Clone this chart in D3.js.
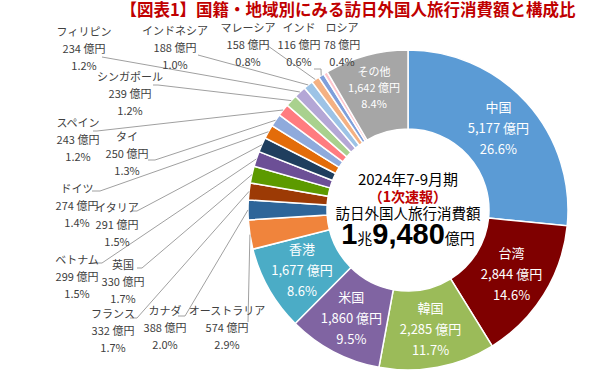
<!DOCTYPE html>
<html>
<head>
<meta charset="utf-8">
<script src="https://cdn.jsdelivr.net/npm/d3@7"></script>
<style>
	body { margin:0; background:#fff; }
	text { font-family: "Noto Sans CJK JP", "Noto Sans", sans-serif; }
</style>
</head>
<body>
<script>
// data, clockwise from 12 o'clock
var names = ["中国","台湾","韓国","米国","香港","オーストラリア","カナダ","フランス","英国","ベトナム","イタリア","ドイツ","タイ","スペイン","シンガポール","フィリピン","インドネシア","マレーシア","インド","ロシア","その他"];
var values = [5177,2844,2285,1860,1677,574,388,332,330,299,291,274,250,243,239,234,188,158,116,78,1642];
var shares = [26.6,14.6,11.7,9.5,8.6,2.9,2.0,1.7,1.7,1.5,1.5,1.4,1.3,1.2,1.2,1.2,1.0,0.8,0.6,0.4,8.4];
var colors = ["#5B9BD5","#7F0000","#9BBB59","#8064A2","#4BACC6","#F0843C","#2E6599","#9C3A05","#5C9A00","#6C4F96","#1F3E5E","#E36C0A","#8FAADC","#FF7C80","#A9D18E","#B4A7D6","#9DC3E6","#F4B183","#7F9FDB","#FFC7CE","#A6A6A6"];
var insideNames = ["中国","台湾","韓国","米国","香港","その他"];

// hand placed outside labels: block centre x, first line y, leader start
var outside = {
	"オーストラリア": {x:227, y:311, lead:[[248,322]]},
	"カナダ": {x:165, y:311, lead:[[178,316],[185,316]]},
	"フランス": {x:113, y:314, lead:[[130,318],[137,318]]},
	"英国": {x:123, y:265, lead:[[137,268],[142,268]]},
	"ベトナム": {x:77, y:260, lead:[[97,263],[102,263]]},
	"イタリア": {x:117, y:208, lead:[[132,211],[137,211]]},
	"ドイツ": {x:77, y:189, lead:[[92,191],[100,191]]},
	"タイ": {x:127, y:137, lead:[[148,160],[155,160]]},
	"スペイン": {x:78, y:123, lead:[[93,131],[97,131]]},
	"シンガポール": {x:130, y:77, lead:[[153,85],[158,85]]},
	"フィリピン": {x:84, y:32, lead:[[102,57]]},
	"インドネシア": {x:175, y:31, lead:[[198,55]]},
	"マレーシア": {x:248, y:28, lead:[[268,46]]},
	"インド": {x:299, y:28, lead:[[314,69],[321,69]]},
	"ロシア": {x:342, y:28, lead:null}
};

var W = 613, H = 374;
var cx = 408, cy = 210, R = 160, r0 = 81;
var fmt = d3.format(",");

var svg = d3.select("body").append("svg").attr("width", W).attr("height", H);

svg.append("text")
	.attr("x", 348).attr("y", 16)
	.attr("text-anchor", "middle")
	.style("font-size", "16.5px").style("font-weight", "bold")
	.attr("fill", "#C00000")
	.text("【図表1】国籍・地域別にみる訪日外国人旅行消費額と構成比");

var pie = d3.pie().sort(null).value(function(d){ return d; });
var arcs = pie(values);
var arc = d3.arc().innerRadius(r0).outerRadius(R);
var labelArc = d3.arc().innerRadius(122).outerRadius(122);
var edgeArc = d3.arc().innerRadius(R).outerRadius(R);

var g = svg.append("g").attr("transform", "translate(" + cx + "," + cy + ")");

g.selectAll("path.slice").data(arcs).enter().append("path")
	.attr("class", "slice")
	.attr("d", arc)
	.attr("fill", function(d, i){ return colors[i]; })
	.style("stroke", "#fff")
	.style("stroke-width", 1.5);

// leader lines
var line = d3.line();
arcs.forEach(function(d, i){
	var o = outside[names[i]];
	if(!o || !o.lead) return;
	var e = edgeArc.centroid(d);
	var pts = o.lead.concat([[e[0] + cx, e[1] + cy]]);
	svg.append("path")
		.attr("d", line(pts))
		.attr("fill", "none")
		.style("stroke", "#A0A0A0")
		.style("stroke-width", 1);
});

// inside labels
arcs.forEach(function(d, i){
	if(insideNames.indexOf(names[i]) < 0) return;
	var c = labelArc.centroid(d);
	var small = names[i] == "その他";
	var step = small ? 16 : 21;
	var fs = small ? "11px" : "13px";
	var x = c[0] + cx, y = c[1] + cy;
	if(small){ x -= 2; y -= 4; }
	var lines = [names[i], fmt(values[i]) + " 億円", shares[i].toFixed(1) + "%"];
	lines.forEach(function(t, k){
		svg.append("text")
			.attr("x", x).attr("y", y + (k - 1) * step)
			.attr("dy", "0.35em")
			.attr("text-anchor", "middle")
			.style("font-size", fs)
			.attr("fill", "#fff")
			.text(t);
	});
});

// outside labels
arcs.forEach(function(d, i){
	var o = outside[names[i]];
	if(!o) return;
	var lines = [names[i], fmt(values[i]) + " 億円", shares[i].toFixed(1) + "%"];
	lines.forEach(function(t, k){
		svg.append("text")
			.attr("x", o.x).attr("y", o.y + k * 17)
			.attr("dy", "0.35em")
			.attr("text-anchor", "middle")
			.style("font-size", "11px")
			.attr("fill", "#404040")
			.text(t);
	});
});

// centre text
svg.append("text").attr("x", cx).attr("y", 180).attr("dy", "0.35em")
	.attr("text-anchor", "middle").style("font-size", "15px").attr("fill", "#000")
	.text("2024年7-9月期");
svg.append("text").attr("x", cx).attr("y", 197).attr("dy", "0.35em")
	.attr("text-anchor", "middle").style("font-size", "14px").style("font-weight", "bold")
	.attr("fill", "#C00000")
	.text("（1次速報）");
svg.append("text").attr("x", cx).attr("y", 214).attr("dy", "0.35em")
	.attr("text-anchor", "middle").style("font-size", "14.5px").attr("fill", "#000")
	.text("訪日外国人旅行消費額");
var big = svg.append("text").attr("x", cx).attr("y", 244)
	.attr("text-anchor", "middle").attr("fill", "#000");
big.append("tspan").style("font-size", "29px").style("font-weight", "900").style("font-family", "'Liberation Sans', sans-serif").text("1");
big.append("tspan").style("font-size", "15px").text("兆");
big.append("tspan").style("font-size", "29px").style("font-weight", "900").style("font-family", "'Liberation Sans', sans-serif").text("9,480");
big.append("tspan").style("font-size", "15px").text("億円");
</script>
</body>
</html>
